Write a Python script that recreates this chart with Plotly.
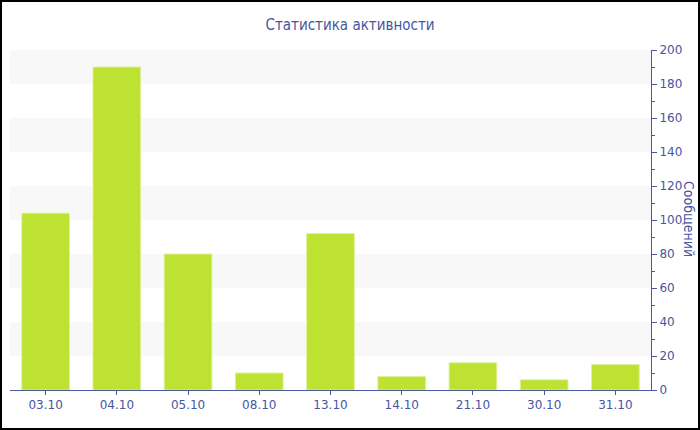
import plotly.graph_objects as go

categories = ["03.10", "04.10", "05.10", "08.10", "13.10", "14.10", "21.10", "30.10", "31.10"]
messages = [104, 190, 80, 10, 92, 8, 16, 6, 15]
band_ranges = [(20, 40), (60, 80), (100, 120), (140, 160), (180, 200)]

axis_color = "#4a5a9e"
text_color = "#4656a0"

fig = go.Figure()
fig.add_trace(go.Bar(
    x=categories, y=messages,
    marker=dict(color="#bde231", line=dict(color="#e0f19a", width=1)),
    hoverinfo="x+y",
))

shapes = []
for y0, y1 in band_ranges:
    shapes.append(dict(type="rect", xref="paper", yref="y", x0=0, x1=1, y0=y0, y1=y1,
                       fillcolor="#f8f8f8", line=dict(width=0), layer="below"))
# outer border
shapes.append(dict(type="rect", xref="paper", yref="paper",
                   x0=-0.01404, x1=1.07488, y0=-0.11471, y1=1.14412,
                   line=dict(color="black", width=2)))

fig.update_layout(
    width=700, height=430,
    margin=dict(l=10, r=49, t=50, b=40, autoexpand=False),
    paper_bgcolor="white", plot_bgcolor="white",
    title=dict(text="Статистика активности", x=0.5, xref="container", xanchor="center",
               y=1 - 25 / 430, yref="container", yanchor="middle",
               font=dict(family="DejaVu Sans Condensed", size=15, color=text_color)),
    font=dict(family="DejaVu Sans", size=12, color=text_color),
    bargap=0.33,
    showlegend=False,
    shapes=shapes,
    annotations=[dict(text="Сообщений", xref="paper", yref="paper",
                      x=(689 - 10) / 641, y=(390 - 219) / 340,
                      xanchor="center", yanchor="middle", textangle=90, showarrow=False,
                      font=dict(family="DejaVu Sans Condensed", size=14, color=text_color))],
    xaxis=dict(showgrid=False, showline=True, linecolor=axis_color, linewidth=1,
               ticks="outside", ticklen=4, tickcolor=axis_color, automargin=False,
               tickfont=dict(size=12, color=text_color), zeroline=False),
    yaxis=dict(side="right", range=[0, 200], dtick=20, showgrid=False, automargin=False,
               showline=True, linecolor=axis_color, linewidth=1,
               ticks="outside", ticklen=5, tickcolor=axis_color,
               minor=dict(dtick=10, ticks="outside", ticklen=3, tickcolor=axis_color),
               zeroline=False,
               tickfont=dict(size=12, color=text_color)),
)
fig.write_html("out.html", config={"displayModeBar": False},
               post_script="document.body.style.margin='0';")
